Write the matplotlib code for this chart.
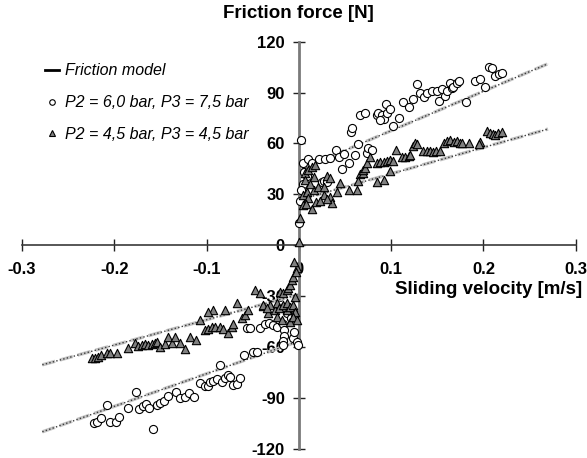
import matplotlib
matplotlib.use("Agg")
import matplotlib.pyplot as plt
from matplotlib.lines import Line2D

plt.rcParams["font.family"] = ["Liberation Sans", "DejaVu Sans"]

# ==========================================================
# Data
# ==========================================================

# circles: P2 = 6,0 bar, P3 = 7,5 bar
circ_v = [
    0.002, 0.004, 0.010, 0.014, 0.022, 0.028, 0.034, 0.040, 0.044, 0.049,
    0.0465, 0.054, 0.056, 0.058, 0.061, 0.0645, 0.066, 0.072, 0.074, 0.075,
    0.079, 0.0845, 0.086, 0.090, 0.092, 0.0946, 0.096, 0.099, 0.1025, 0.108,
    0.113, 0.119, 0.124, 0.128, 0.131, 0.136, 0.139, 0.144, 0.1496, 0.152,
    0.155, 0.1586, 0.160, 0.164, 0.166, 0.1675, 0.171, 0.174, 0.181, 0.191,
    0.1965, 0.202, 0.2055, 0.209, 0.213, 0.2165, 0.220,
    0.006, 0.009, 0.005, 0.002, 0.025, 0.027, 0.031, 0.0005, 0.001, 0.088,
    -0.2221, -0.2185, -0.2145, -0.2084, -0.2048, -0.198, -0.1947, -0.185,
    -0.1766, -0.173, -0.1693, -0.1657, -0.162, -0.158, -0.154, -0.1505,
    -0.146, -0.1415, -0.1335, -0.129, -0.1234, -0.119, -0.1137, -0.107,
    -0.1017, -0.098, -0.0963, -0.0927, -0.089, -0.086, -0.0836, -0.080,
    -0.077, -0.0746, -0.071, -0.0673, -0.0638, -0.0594, -0.0493, -0.0457,
    -0.0565, -0.053, -0.042, -0.0367, -0.032, -0.0277, -0.0233, -0.0175,
    -0.016, -0.016, -0.0168, -0.0175, -0.0125, -0.0077, -0.0052, -0.0066,
    -0.0085, -0.005, -0.002, -0.001,
]
circ_F = [
    62.0, 48.6, 50.6, 48.3, 50.6, 50.6, 51.2, 56.1, 52.2, 53.7,
    44.7, 48.6, 66.9, 68.9, 53.2, 59.6, 76.7, 77.7, 54.2, 57.1,
    56.1, 76.7, 77.7, 76.7, 74.2, 83.2, 77.7, 80.1, 70.2, 74.8,
    84.6, 81.6, 86.0, 95.0, 89.5, 87.1, 89.5, 91.0, 91.0, 85.0,
    91.9, 87.9, 91.0, 95.8, 92.5, 93.0, 95.8, 97.0, 84.2, 96.8,
    98.1, 93.4, 105.2, 104.2, 99.7, 100.9, 101.7,
    43.0, 41.0, 36.0, 32.5, 37.4, 38.0, 37.5, 12.9, 26.0, 73.8,
    -104.6, -104.0, -102.0, -94.2, -104.0, -104.0, -101.4, -96.1,
    -86.3, -96.5, -94.8, -93.6, -96.1, -108.3, -94.2, -93.2,
    -91.6, -88.9, -86.3, -90.2, -89.3, -86.9, -89.3, -81.4,
    -82.8, -82.8, -80.4, -79.8, -79.0, -70.6, -80.4, -78.4,
    -76.5, -77.5, -82.4, -81.8, -78.4, -64.7, -62.8, -62.8,
    -49.0, -49.0, -49.0, -46.4, -45.7, -47.0, -48.0, -46.4,
    -50.0, -53.5, -56.3, -58.8, -40.1, -42.5, -41.7, -54.9,
    -42.7, -51.0, -56.9, -59.0,
]

# triangles: P2 = 4,5 bar, P3 = 4,5 bar
tri_v = [
    0.0005, 0.0013, 0.005, 0.0085, 0.010, 0.014, 0.016, 0.019, 0.021, 0.027,
    0.027, 0.030, 0.034, 0.034, 0.036, 0.041, 0.045, 0.054, 0.063, 0.0067,
    0.010, 0.014, 0.0176, 0.007, 0.016, 0.012, 0.004, 0.008, 0.023, 0.030,
    0.066, 0.069, 0.070, 0.072, 0.074, 0.077, 0.0845, 0.088, 0.092, 0.095,
    0.099, 0.1025, 0.099, 0.0845, 0.092, 0.1054, 0.112, 0.115, 0.119, 0.1206,
    0.124, 0.126, 0.128, 0.135, 0.139, 0.142, 0.145, 0.149, 0.153, 0.157,
    0.160, 0.164, 0.1676, 0.171, 0.175, 0.177, 0.184, 0.1965, 0.195, 0.204,
    0.207, 0.210, 0.213, 0.216, 0.220, 0.064,
    -0.2246, -0.221, -0.2175, -0.214, -0.2084, -0.2048, -0.1975, -0.185,
    -0.1777, -0.174, -0.170, -0.1668, -0.163, -0.1595, -0.156, -0.154,
    -0.1505, -0.145, -0.1415, -0.138, -0.134, -0.129, -0.1234, -0.118,
    -0.1115, -0.107, -0.102, -0.098, -0.0945, -0.091, -0.086, -0.082,
    -0.0765, -0.0728, -0.071, -0.0927, -0.080, -0.098, -0.0674, -0.062,
    -0.058, -0.0548, -0.0475, -0.042, -0.0385, -0.033, -0.031, -0.0258,
    -0.024, -0.0204, -0.0168, -0.013, -0.0114, -0.0095, -0.0077, -0.006,
    -0.004, -0.006, -0.013, -0.0185, -0.0385, -0.0350, -0.0220, -0.0177,
    -0.0130, -0.0095, -0.0060, -0.0040, -0.0240, -0.0185, -0.0095, -0.0060,
    -0.0023, -0.0020, -0.0030, -0.0050,
]
tri_F = [
    1.7, 15.8, 29.6, 31.5, 27.6, 21.2, 32.5, 25.6, 34.5, 34.5,
    29.6, 40.8, 39.4, 28.6, 24.7, 31.5, 36.8, 32.5, 32.5, 42.4,
    44.3, 46.3, 47.3, 38.4, 40.4, 36.0, 24.0, 24.5, 26.0, 27.0,
    42.0, 42.4, 44.3, 45.5, 48.3, 52.2, 48.6, 48.8, 49.2, 49.8,
    50.2, 49.8, 43.9, 37.4, 38.4, 56.1, 51.8, 52.2, 52.5, 53.1,
    58.4, 60.0, 59.5, 55.7, 55.5, 55.8, 55.2, 55.5, 55.8, 60.5,
    61.5, 61.8, 61.0, 61.5, 60.5, 60.5, 60.4, 61.0, 59.5, 67.5,
    66.0, 65.5, 65.0, 66.0, 66.5, 38.0,
    -66.7, -66.3, -65.7, -64.9, -63.7, -63.7, -63.3, -60.8,
    -57.8, -59.4, -58.8, -58.2, -58.8, -58.2, -57.8, -56.9,
    -59.8, -58.2, -53.9, -57.8, -54.3, -57.8, -61.2, -53.9,
    -55.9, -44.1, -50.0, -49.6, -48.0, -48.0, -48.0, -49.6,
    -51.9, -48.0, -46.4, -38.2, -38.2, -39.2, -33.9, -43.1,
    -41.1, -38.2, -26.4, -28.4, -35.8, -40.1, -35.2, -38.2,
    -34.3, -27.4, -28.4, -26.4, -25.4, -23.5, -20.5, -18.6,
    -30.3, -36.2, -38.2, -36.6, -35.2, -37.2, -37.2, -35.2,
    -34.3, -36.2, -35.2, -39.2, -42.1, -44.1, -45.1, -42.1,
    -44.1, -13.6, -16.0, -10.0,
]

# friction model lines (end points)
model_pos_v = [0.0, 0.27]
model_pos_hi = [44.3, 107.0]
model_pos_lo = [26.6, 68.5]
model_neg_v = [-0.278, 0.0]
model_neg_hi = [-70.5, -29.0]
model_neg_lo = [-110.0, -56.5]

x_ticks = [-0.3, -0.2, -0.1, 0.0, 0.1, 0.2, 0.3]
x_tick_labels = ["-0.3", "-0.2", "-0.1", "0", "0.1", "0.2", "0.3"]
y_ticks = [-120, -90, -60, -30, 0, 30, 60, 90, 120]
y_tick_labels = ["-120", "-90", "-60", "-30", "0", "30", "60", "90", "120"]

# ==========================================================
# Figure
# ==========================================================

fig = plt.figure(figsize=(5.87, 4.58), dpi=100)
ax = fig.add_axes([0.0375, 0.0201, 0.9433, 0.8889])

ax.set_xlim(-0.3, 0.3)
ax.set_ylim(-120, 120)

# model lines: light dashed under a dark dotted line
for v, F in [(model_pos_v, model_pos_hi), (model_pos_v, model_pos_lo),
             (model_neg_v, model_neg_hi), (model_neg_v, model_neg_lo)]:
    ax.plot(v, F, color="#c4c4c4", lw=2.4, ls=(0, (4, 1.5)), zorder=2)
    ax.plot(v, F, color="#3a3a3a", lw=1.0, ls=(0, (1, 1.6)), zorder=2)

ax.scatter(circ_v, circ_F, s=34, marker="o", facecolor="white",
           edgecolor="black", linewidth=0.8, zorder=3)
ax.scatter(tri_v, tri_F, s=36, marker="^", facecolor="#808080",
           edgecolor="black", linewidth=0.8, zorder=4)

# axes through the origin
ax.spines["left"].set_position(("data", 0))
ax.spines["bottom"].set_position(("data", 0))
ax.spines["right"].set_visible(False)
ax.spines["top"].set_visible(False)
ax.spines["left"].set_color("#7a7a7a")
ax.spines["left"].set_linewidth(2.0)
ax.spines["bottom"].set_color("#3a3a3a")
ax.spines["bottom"].set_linewidth(1.2)

ax.set_xticks(x_ticks)
ax.set_xticklabels(x_tick_labels, fontsize=12, fontweight="bold")
ax.set_yticks(y_ticks)
ax.set_yticklabels(y_tick_labels, fontsize=12, fontweight="bold")
ax.tick_params(axis="x", direction="inout", length=8, width=1,
               color="#222222", pad=8)
ax.tick_params(axis="y", direction="inout", length=8, width=1,
               color="#222222", pad=6)

fig.text(298 / 587, 1 - 13 / 458, "Friction force [N]", fontsize=13.5,
         fontweight="bold", ha="center", va="center")
fig.text(582 / 587, 1 - 290 / 458, "Sliding velocity [m/s]", fontsize=13.5,
         fontweight="bold", ha="right", va="center")

# legend
handles = [
    Line2D([], [], color="black", lw=2),
    Line2D([], [], ls="none", marker="o", markersize=4,
           markerfacecolor="white", markeredgecolor="black",
           markeredgewidth=0.8),
    Line2D([], [], ls="none", marker="^", markersize=4.5,
           markerfacecolor="#808080", markeredgecolor="black",
           markeredgewidth=0.8),
]
labels = ["Friction model", "P2 = 6,0 bar, P3 = 7,5 bar",
          "P2 = 4,5 bar, P3 = 4,5 bar"]
fig.legend(handles, labels, loc="upper left",
           bbox_to_anchor=(0.052, 0.893), frameon=False,
           prop={"style": "italic", "size": 11.5},
           handlelength=0.9, handletextpad=0.35, labelspacing=1.05)

fig.savefig("out.png", dpi=100)
